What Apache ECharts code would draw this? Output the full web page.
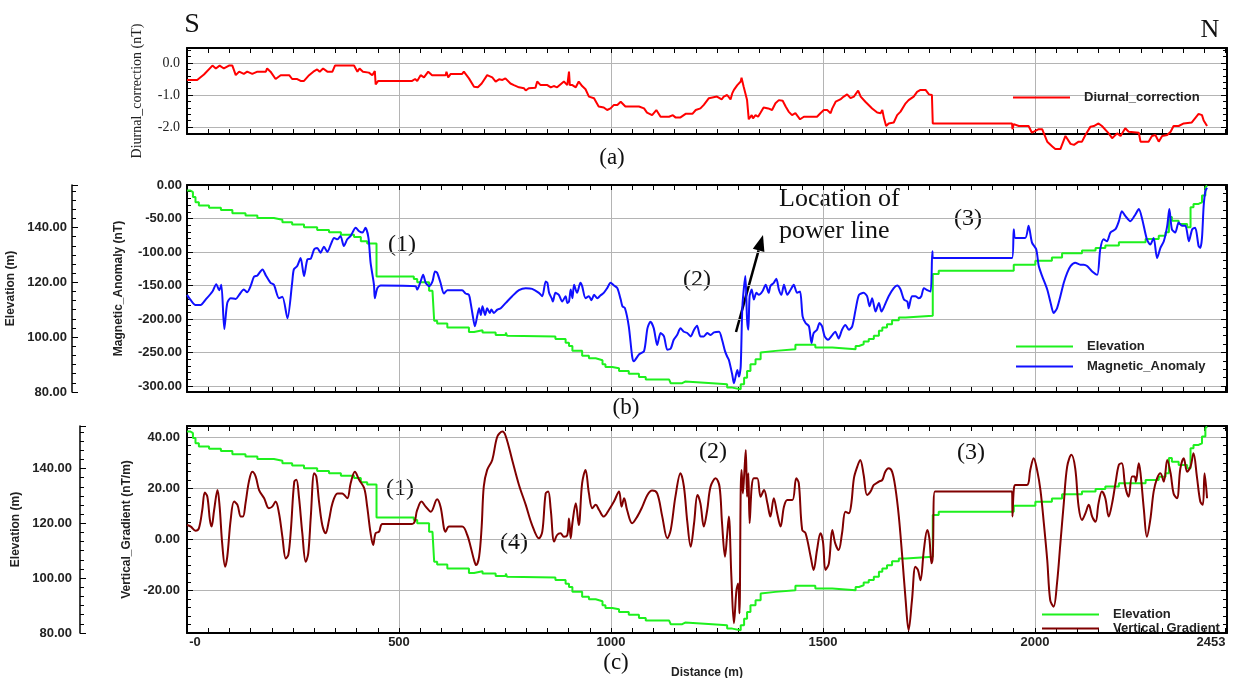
<!DOCTYPE html>
<html>
<head>
<meta charset="utf-8">
<script src="https://cdn.jsdelivr.net/npm/echarts@6/dist/echarts.min.js"></script>
<style>
html,body{margin:0;padding:0;background:#fff}
#main{width:1233px;height:678px}
</style>
</head>
<body>
<div id="main"></div>
<script>
// distance (m) vs. value
var diurnal = [[0,-0.53],[24,-0.53],[40,-0.36],[60,-0.08],[68,-0.17],[77,-0.08],[87,-0.17],[99,-0.08],[107,-0.08],[115,-0.38],[123,-0.27],[134,-0.34],[142,-0.27],[154,-0.34],[166,-0.27],[186,-0.27],[189,-0.17],[197,-0.27],[209,-0.5],[221,-0.38],[241,-0.38],[248,-0.5],[260,-0.5],[268,-0.56],[276,-0.56],[288,-0.38],[298,-0.27],[307,-0.2],[313,-0.27],[321,-0.17],[331,-0.27],[343,-0.27],[349,-0.08],[394,-0.08],[402,-0.27],[407,-0.17],[415,-0.27],[429,-0.3],[437,-0.38],[443,-0.25],[445,-0.67],[451,-0.56],
  [531,-0.56],[538,-0.5],[543,-0.56],[551,-0.38],[559,-0.45],[569,-0.27],[578,-0.38],[610,-0.38],[612,-0.27],[616,-0.45],[622,-0.34],[649,-0.34],[653,-0.27],[665,-0.48],[677,-0.74],[686,-0.76],[695,-0.64],[708,-0.38],[720,-0.45],[728,-0.58],[736,-0.51],[744,-0.53],[751,-0.48],[763,-0.64],[771,-0.69],[783,-0.76],[795,-0.79],[799,-0.86],[806,-0.79],[822,-0.77],[826,-0.58],[834,-0.69],[850,-0.69],[858,-0.76],[865,-0.72],[873,-0.76],[889,-0.58],[893,-0.53],[897,-0.69],[901,-0.27],[903,-0.69],[909,-0.69],[917,-0.76],[924,-0.58],[932,-0.72],[940,-0.82],[948,-1.05],[960,-1.1],[971,-1.36],[983,-1.39],[991,-1.47],[999,-1.42],[1007,-1.31],[1015,-1.31],[1023,-1.21],[1026,-1.16],[1034,-1.36],[1066,-1.36],[1078,-1.42],[1085,-1.55],[1097,-1.63],[1101,-1.68],[1107,-1.47],[1117,-1.68],[1137,-1.68],[1146,-1.63],[1152,-1.7],[1164,-1.7],[1176,-1.59],[1192,-1.59],[1200,-1.47],[1211,-1.42],[1219,-1.31],[1231,-1.1],[1250,-1.05],[1261,-1.14],[1266,-1.05],[1274,-1.0],[1282,-1.14],[1286,-0.95],[1290,-0.84],[1298,-0.69],[1306,-0.58],[1308,-0.46],[1313,-0.74],[1321,-1.16],[1325,-1.76],[1332,-1.63],[1335,-1.73],[1341,-1.63],[1347,-1.68],[1352,-1.57],[1360,-1.39],[1371,-1.42],[1380,-1.47],[1388,-1.26],[1396,-1.16],[1405,-1.18],[1412,-1.36],[1419,-1.52],[1427,-1.63],[1435,-1.57],[1446,-1.76],[1455,-1.68],
  [1486,-1.68],[1494,-1.57],[1502,-1.47],[1510,-1.47],[1518,-1.57],[1522,-1.42],[1530,-1.21],[1541,-1.14],[1549,-1.05],[1557,-0.98],[1565,-1.1],[1573,-1.05],[1583,-0.86],[1589,-1.05],[1600,-1.21],[1616,-1.42],[1628,-1.55],[1636,-1.57],[1640,-1.47],[1644,-1.73],[1649,-1.97],[1655,-1.89],[1667,-1.86],[1675,-1.63],[1683,-1.52],[1695,-1.26],[1702,-1.16],[1714,-1.05],[1722,-0.9],[1730,-0.84],[1742,-0.84],[1750,-0.98],[1757,-1.0],[1759,-1.89],[1946,-1.89],[1947,-2.07],[1950,-1.91],[1962,-1.97],[1985,-1.97],[1993,-2.18],[2009,-2.07],[2017,-2.07],[2029,-2.46],[2041,-2.61],[2048,-2.69],[2060,-2.69],[2072,-2.28],[2084,-2.53],[2092,-2.56],[2103,-2.46],[2111,-2.46],[2119,-2.25],[2131,-1.99],[2139,-1.97],[2150,-1.89],[2158,-1.97],[2174,-2.2],[2182,-2.35],[2194,-2.2],[2202,-2.28],[2213,-2.04],[2221,-2.15],[2245,-2.18],[2249,-2.46],[2268,-2.46],[2276,-2.28],[2284,-2.25],[2292,-2.46],[2300,-2.28],[2312,-2.25],[2320,-2.15],[2327,-1.97],[2339,-1.97],[2351,-1.89],[2370,-1.86],[2386,-1.59],[2394,-1.63],[2398,-1.8],[2406,-1.97]];

var magnetic = [[0,-164],[9,-172],[20,-179],[32,-179],[44,-171],[60,-159],[69,-148],[76,-157],[81,-149],[88,-215],[95,-176],[103,-169],[115,-170],[123,-164],[134,-156],[142,-160],[150,-151],[158,-137],[166,-135],[178,-126],[186,-135],[197,-146],[205,-149],[217,-169],[225,-167],[237,-199],[248,-146],[252,-126],[260,-121],[268,-109],[276,-136],[284,-111],[292,-110],[300,-96],[307,-94],[315,-101],[323,-92],[331,-100],[339,-89],[347,-79],[355,-81],[362,-76],[370,-91],[378,-81],[386,-76],[398,-64],[406,-69],[414,-71],[421,-64],[428,-79],[433,-116],[441,-149],[443,-169],[449,-154],[457,-150],
  [539,-151],[543,-156],[551,-144],[557,-134],[563,-146],[571,-151],[579,-144],[585,-129],[590,-131],[598,-146],[606,-162],[614,-157],[649,-157],[657,-162],[665,-164],[669,-176],[673,-191],[679,-211],[685,-194],[689,-184],[693,-194],[697,-181],[703,-194],[708,-184],[714,-191],[718,-186],[724,-191],[732,-186],[740,-184],[752,-176],[767,-166],[783,-157],[799,-154],[814,-155],[830,-161],[838,-166],[846,-144],[850,-146],[854,-161],[860,-169],[863,-174],[869,-161],[877,-164],[885,-174],[893,-166],[897,-176],[901,-174],[905,-156],[909,-169],[913,-149],[920,-161],[928,-146],[932,-151],[940,-169],[948,-166],[954,-172],[960,-164],[968,-169],[975,-165],[983,-161],[991,-154],[999,-146],[1007,-150],[1015,-154],[1023,-171],[1027,-181],[1033,-184],[1042,-211],[1050,-256],[1054,-263],[1066,-253],[1078,-248],[1086,-214],[1093,-204],[1101,-214],[1109,-239],[1117,-221],[1125,-226],[1133,-246],[1141,-244],[1148,-231],[1156,-224],[1164,-214],[1172,-219],[1180,-221],[1188,-226],[1196,-216],[1203,-210],[1211,-226],[1219,-226],[1227,-221],[1235,-224],[1243,-220],[1255,-219],[1262,-231],[1269,-248],[1274,-256],[1278,-261],[1286,-283],[1290,-296],[1298,-276],[1302,-286],[1306,-271],[1310,-181],[1317,-136],[1321,-201],[1324,-216],[1327,-166],[1332,-156],[1337,-171],[1343,-161],[1349,-164],[1357,-159],[1365,-149],[1372,-161],[1376,-151],[1384,-146],[1390,-140],[1396,-156],[1402,-164],[1408,-149],[1416,-164],[1424,-156],[1431,-149],[1439,-161],[1446,-159],
  [1452,-196],[1459,-206],[1467,-211],[1473,-236],[1478,-221],[1486,-216],[1492,-206],[1498,-211],[1504,-226],[1512,-231],[1522,-224],[1529,-219],[1537,-229],[1545,-216],[1553,-209],[1561,-216],[1569,-211],[1577,-186],[1585,-164],[1596,-161],[1604,-166],[1610,-181],[1616,-169],[1624,-189],[1632,-176],[1638,-189],[1646,-179],[1655,-166],[1667,-154],[1675,-150],[1683,-156],[1691,-171],[1699,-174],[1702,-184],[1710,-166],[1718,-166],[1726,-169],[1732,-166],[1738,-154],[1746,-157],[1754,-159],[1758,-99],[1761,-109],[1946,-109],[1950,-66],[1954,-79],[1977,-79],[1985,-61],[1993,-86],[2003,-96],[2009,-121],[2017,-136],[2029,-156],[2037,-176],[2044,-191],[2052,-184],[2060,-166],[2068,-146],[2076,-131],[2084,-121],[2095,-116],[2107,-119],[2115,-119],[2123,-121],[2135,-129],[2147,-134],[2154,-96],[2162,-81],[2170,-84],[2178,-71],[2190,-66],[2198,-54],[2205,-39],[2213,-46],[2225,-54],[2237,-44],[2245,-36],[2253,-51],[2264,-81],[2272,-89],[2280,-79],[2288,-109],[2296,-94],[2304,-84],[2312,-61],[2317,-36],[2323,-66],[2331,-71],[2339,-56],[2347,-61],[2355,-61],[2363,-84],[2371,-66],[2378,-64],[2386,-91],[2390,-94],[2394,-79],[2398,-31],[2402,-9],[2406,-4]];

// elevation staircase: distance where each level starts, level (m)
var elevation = [[0,153.5],[8,152.9],[14,151.1],[20,149.2],[28,148.0],[52,147.2],[80,146.4],[107,145.2],[138,144.4],[166,143.5],[205,142.8],[225,141.9],[248,141.1],[276,140.1],[307,139.1],[335,138.3],[363,137.4],[394,136.5],[410,135.0],[425,134.2],[447,122.1],[535,121.2],[543,120.0],[571,116.9],[579,116.3],[583,106.0],[590,105.0],[614,103.5],[665,101.9],[677,102.5],[697,101.7],[728,100.8],[752,101.7],[755,100.5],[759,100.2],[869,99.3],[893,98.0],[901,96.8],[909,95.0],[932,93.2],[948,92.3],[964,91.6],[980,90.1],[987,89.1],[1003,88.7],[1019,87.7],[1042,86.7],[1066,85.5],[1082,84.6],[1137,84.0],[1141,83.2],[1168,83.8],[1175,83.2],[1239,82.8],[1274,81.6],[1286,81.0],[1306,82.8],[1314,85.2],[1321,87.7],[1329,90.1],[1341,91.9],[1353,94.4],[1357,95.0],[1388,95.6],[1435,97.2],[1482,96.2],[1522,95.6],[1577,96.8],[1585,97.4],[1596,98.4],[1608,99.3],[1620,100.5],[1632,102.3],[1640,103.5],[1651,104.7],[1663,106.2],[1679,107.2],[1695,107.8],[1759,123.0],[1773,124.2],[1950,126.4],[2001,127.9],[2040,129.1],[2064,130.6],[2111,131.6],[2143,132.5],[2166,133.4],[2198,134.6],[2261,135.8],[2292,137.0],[2308,138.3],[2316,143.8],[2323,142.5],[2339,141.3],[2359,140.1],[2367,147.4],[2374,148.6],[2386,149.2],[2394,151.7],[2402,154.7],[2406,155.3]];

var gradient = [[0,5.6],[9,5.0],[20,3.4],[28,4.3],[36,11.5],[42,18.3],[48,16.7],[54,7.6],[58,5.0],[64,11.5],[72,19.3],[77,12.8],[83,-1.6],[90,-10.7],[95,-6.8],[103,7.6],[111,14.8],[119,13.5],[127,8.9],[132,8.9],[138,14.1],[146,22.6],[154,26.5],[162,24.6],[170,19.3],[182,16.1],[193,12.2],[201,12.8],[209,14.8],[217,10.2],[225,1.0],[233,-7.5],[239,-6.1],[245,3.7],[253,22.6],[258,23.3],[264,16.7],[272,2.4],[280,-8.8],[286,-5.5],[292,8.9],[300,25.9],[305,24.6],[311,15.4],[319,5.6],[327,2.4],[335,7.6],[343,14.1],[355,18.0],[366,18.0],[378,16.1],[386,22.0],[396,26.5],[406,23.3],[418,20.0],[425,12.8],[433,2.4],[439,-2.2],[445,2.4],[453,3.0],[461,6.0],[531,6.0],
  [543,11.5],[553,14.8],[563,12.8],[575,10.8],[590,15.7],[598,12.8],[610,3.0],[618,5.0],[649,5.0],[661,1.7],[669,-2.9],[677,-8.1],[682,-10.1],[689,-6.8],[695,5.0],[700,20.7],[708,27.2],[720,31.1],[732,40.3],[744,42.2],[752,40.3],[767,31.1],[783,21.3],[799,13.5],[814,5.6],[830,0.4],[838,3.0],[846,18.0],[852,18.7],[858,11.5],[866,-0.9],[873,1.7],[881,2.4],[889,1.0],[897,1.7],[901,8.2],[905,0.4],[909,6.3],[917,14.1],[924,5.6],[932,22.0],[940,27.2],[948,18.0],[956,12.2],[964,13.5],[972,11.5],[983,8.9],[995,11.5],[1007,14.8],[1019,18.7],[1025,12.8],[1031,16.1],[1038,11.5],[1050,6.3],[1062,8.9],[1074,12.8],[1086,17.4],[1097,19.1],[1109,18.0],[1121,8.9],[1133,0.4],[1141,3.7],[1152,16.7],[1164,25.9],[1172,20.7],[1180,6.9],[1188,-2.9],[1196,6.3],[1204,17.4],[1211,14.1],[1219,5.0],[1227,11.5],[1235,20.7],[1247,23.9],[1256,20.7],[1262,6.3],[1269,-6.8],[1274,1.7],[1278,8.9],[1284,-14.6],[1290,-32.9],[1296,-19.9],[1300,-17.3],[1303,-29.0],[1306,19.3],[1308,27.2],[1311,18.0],[1314,24.6],[1318,35.0],[1321,16.7],[1324,25.9],[1327,6.3],[1332,20.7],[1337,23.9],[1345,23.9],[1353,16.7],[1361,19.3],[1369,14.1],[1376,8.9],[1384,16.1],[1392,10.2],[1400,5.0],[1408,12.8],[1416,15.4],[1428,15.4],[1437,23.9],[1443,22.0],[1451,3.7],[1459,2.4],[1471,-6.8],[1478,-12.0],[1486,-4.2],[1494,2.4],[1500,-0.9],[1506,-12.0],[1514,-9.4],[1522,3.7],[1529,-1.6],[1537,-4.2],[1545,2.4],[1553,10.8],[1561,10.2],[1567,14.1],[1573,23.9],[1581,28.5],[1588,31.1],[1596,25.2],[1604,17.4],[1612,18.7],[1620,21.3],[1632,22.6],[1640,23.3],[1647,26.5],[1655,27.8],[1663,26.5],[1671,20.0],[1679,8.9],[1687,-6.8],[1695,-23.8],[1702,-35.6],[1710,-23.8],[1718,-10.7],[1724,-12.0],[1730,-16.0],[1738,-4.2],[1746,3.7],[1751,0.4],[1756,-9.4],[1759,-6.8],[1764,18.7],[1946,18.7],[1947,8.9],[1950,19.3],[1954,21.3],[1981,21.3],[1989,27.2],[1997,31.8],[2005,27.2],[2013,19.3],[2021,6.3],[2029,-8.1],[2036,-23.8],[2044,-26.4],[2052,-17.3],[2060,-1.6],[2068,14.1],[2076,28.5],[2086,33.1],[2095,27.8],[2103,12.8],[2111,7.6],[2119,10.2],[2127,13.5],[2135,8.9],[2143,6.9],[2150,14.1],[2158,18.7],[2166,16.1],[2174,8.9],[2182,14.1],[2190,22.0],[2198,29.2],[2205,29.8],[2213,20.7],[2221,16.7],[2229,24.6],[2235,24.6],[2238,22.6],[2245,29.8],[2249,25.9],[2257,11.5],[2264,1.0],[2272,7.6],[2280,18.7],[2288,23.9],[2296,25.9],[2304,22.6],[2312,31.1],[2320,25.9],[2327,18.0],[2335,16.1],[2343,27.8],[2351,31.8],[2359,26.5],[2367,28.5],[2374,33.7],[2382,24.6],[2390,14.8],[2396,13.5],[2400,25.9],[2406,16.1]];

var distLabels = [0, 500, 1000, 1500, 2000, 2453];
var distMax = 2453;

var SANS = '"Liberation Sans", Arial, sans-serif';
var SERIF = '"Liberation Serif", "Times New Roman", serif';
var GRID_L = 187, GRID_R = 6;

function xAx(grid, pos, labels) {
	var ax = {
		type: 'value', gridIndex: grid, position: pos, min: 0, max: distMax, splitNumber: 5,
		axisLine: { show: true, onZero: false, lineStyle: { color: '#000', width: 2 } },
		axisTick: { show: true, inside: true, length: 5, lineStyle: { color: '#000' } },
		minorTick: { show: true, splitNumber: 10, length: 5, lineStyle: { color: '#000' } },
		axisLabel: { show: false },
		splitLine: { show: pos == 'bottom', lineStyle: { color: '#b4b4b4', width: 1 } }
	};
	if (labels) {
		ax.axisLabel = {
			show: true, customValues: distLabels, margin: 3,
			fontFamily: SANS, fontWeight: 'bold', fontSize: 13, color: '#222',
			formatter: function (v) {
				if (v === 0) return '{l|-0}';
				if (v === distMax) return '{r|' + v + '}';
				return String(v);
			},
			rich: {
				l: { fontFamily: SANS, fontWeight: 'bold', fontSize: 13, color: '#222', padding: [0, 0, 0, 16] },
				r: { fontFamily: SANS, fontWeight: 'bold', fontSize: 13, color: '#222', padding: [0, 32, 0, 0] }
			}
		};
		ax.name = 'Distance (m)';
		ax.nameLocation = 'middle';
		ax.nameGap = 34;
		ax.nameTextStyle = { fontFamily: SANS, fontWeight: 'bold', fontSize: 12, color: '#222' };
	}
	return ax;
}

function yAx(grid, o) {
	var ax = {
		type: 'value', gridIndex: grid, position: o.pos || 'left', offset: o.offset || 0,
		min: o.min, max: o.max, splitNumber: o.split,
		axisLine: { show: true, onZero: false, lineStyle: { color: '#000', width: o.lw || 2 } },
		axisTick: { show: true, inside: true, length: 6, lineStyle: { color: '#000' } },
		minorTick: { show: true, splitNumber: o.minor || 5, length: 4, lineStyle: { color: '#000' } },
		axisLabel: { show: false },
		splitLine: { show: !!o.grid, lineStyle: { color: '#b4b4b4', width: 1 } }
	};
	if (o.labels) {
		ax.axisLabel = {
			show: true, showMinLabel: o.showMin !== false, showMaxLabel: !!o.showMax, margin: o.margin || 5,
			fontFamily: o.serif ? SERIF : SANS, fontWeight: o.serif ? 'normal' : 'bold',
			fontSize: o.serif ? 14 : 13, color: '#222',
			formatter: function (v) { return v.toFixed(o.dec); }
		};
		ax.name = o.name;
		ax.nameLocation = 'middle';
		ax.nameGap = o.gap;
		ax.nameTextStyle = { fontFamily: o.serif ? SERIF : SANS, fontWeight: o.serif ? 'normal' : 'bold',
			fontSize: o.serif ? 14 : 12, color: '#222' };
	}
	return ax;
}

function txt(x, y, s, size, align) {
	return { type: 'text', x: x, y: y, style: { text: s, font: size + 'px ' + SERIF, fill: '#111',
		textAlign: align || 'center', textVerticalAlign: 'middle' } };
}

var legendText = { fontFamily: SANS, fontWeight: 'bold', fontSize: 13, color: '#222', padding: [0, 0, 0, 9] };
var legendBase = { padding: 0, itemWidth: 57, itemHeight: 14, selectedMode: false,
	itemStyle: { opacity: 0 }, textStyle: legendText };

var myChart = echarts.init(document.getElementById('main'));
var option = {
	animation: false,
	backgroundColor: '#fff',
	grid: [
		{ left: GRID_L, right: GRID_R, top: 48, height: 86, show: true, borderColor: '#000', borderWidth: 1, outerBoundsMode: 'none' },
		{ left: GRID_L, right: GRID_R, top: 185, height: 207, show: true, borderColor: '#000', borderWidth: 1, outerBoundsMode: 'none' },
		{ left: GRID_L, right: GRID_R, top: 426, height: 207, show: true, borderColor: '#000', borderWidth: 1, outerBoundsMode: 'none' }
	],
	xAxis: [
		xAx(0, 'bottom'), xAx(0, 'top'),
		xAx(1, 'bottom'), xAx(1, 'top'),
		xAx(2, 'bottom', true), xAx(2, 'top')
	],
	yAxis: [
		yAx(0, { min: -2.22, max: 0.47, split: 3, grid: true, labels: true, serif: true, dec: 1, margin: 7,
			name: 'Diurnal_correction (nT)', gap: 43, showMin: false }),
		yAx(0, { pos: 'right', min: -2.22, max: 0.47, split: 3 }),
		yAx(1, { min: -309, max: 0, split: 6, grid: true, labels: true, dec: 2, name: 'Magnetic_Anomaly (nT)',
			gap: 62, showMin: false, showMax: true }),
		yAx(1, { pos: 'right', min: -309, max: 0, split: 6, minor: 4 }),
		yAx(1, { offset: 115, min: 80, max: 155.5, split: 4, minor: 6, labels: true, dec: 2, lw: 1.5,
			name: 'Elevation (m)', gap: 49 }),
		yAx(2, { min: -36.7, max: 44.4, split: 4, minor: 6, grid: true, labels: true, dec: 2, margin: 7,
			name: 'Vertical_Gradient (nT/m)', gap: 54, showMin: false }),
		yAx(2, { pos: 'right', min: -36.7, max: 44.4, split: 4, minor: 6 }),
		yAx(2, { offset: 107, min: 80, max: 155.5, split: 4, minor: 6, labels: true, dec: 2, lw: 1.5, margin: 8,
			name: 'Elevation (m)', gap: 55 })
	],
	legend: [
		Object.assign({ data: ['Diurnal_correction'], left: 1012, top: 91 }, legendBase),
		Object.assign({ data: ['Elevation', 'Magnetic_Anomaly'], orient: 'vertical', left: 1015, top: 340, itemGap: 7 }, legendBase),
		Object.assign({ data: ['Elevation', 'Vertical_Gradient'], orient: 'vertical', left: 1041, top: 608, itemGap: 1 }, legendBase)
	],
	series: [
		{ name: 'Diurnal_correction', type: 'line', xAxisIndex: 0, yAxisIndex: 0, data: diurnal,
			symbol: 'none', clip: false, color: '#ff0000', lineStyle: { color: '#ff0000', width: 2 } },
		{ name: 'Elevation', type: 'line', xAxisIndex: 2, yAxisIndex: 4, data: elevation, step: 'end',
			symbol: 'none', color: '#1ef01e', lineStyle: { color: '#1ef01e', width: 2 } },
		{ name: 'Magnetic_Anomaly', type: 'line', xAxisIndex: 2, yAxisIndex: 2, data: magnetic,
			symbol: 'none', smooth: 0.25, color: '#1010ff', lineStyle: { color: '#1010ff', width: 2 } },
		{ name: 'Elevation', type: 'line', xAxisIndex: 4, yAxisIndex: 7, data: elevation, step: 'end',
			symbol: 'none', color: '#1ef01e', lineStyle: { color: '#1ef01e', width: 2 } },
		{ name: 'Vertical_Gradient', type: 'line', xAxisIndex: 4, yAxisIndex: 5, data: gradient,
			symbol: 'none', smooth: 0.35, color: '#800000', lineStyle: { color: '#800000', width: 2 } }
	],
	graphic: [
		txt(192, 25, 'S', 28), txt(1210, 30, 'N', 26),
		txt(612, 158, '(a)', 23), txt(626, 408, '(b)', 23), txt(616, 663, '(c)', 23),
		txt(402, 245, '(1)', 24), txt(697, 280, '(2)', 24), txt(968, 219, '(3)', 24),
		txt(779, 199, 'Location of', 26, 'left'), txt(779, 231, 'power line', 26, 'left'),
		txt(400, 489, '(1)', 24), txt(514, 543, '(4)', 24), txt(713, 452, '(2)', 24), txt(971, 453, '(3)', 24),
		{ type: 'line', shape: { x1: 736, y1: 332, x2: 758.6, y2: 250.4 }, style: { stroke: '#000', lineWidth: 2.5 } },
		{ type: 'polygon', shape: { points: [[763, 235], [764.4, 252], [752.8, 248.7]] }, style: { fill: '#000' } }
	]
};
myChart.setOption(option);
</script>
</body>
</html>
